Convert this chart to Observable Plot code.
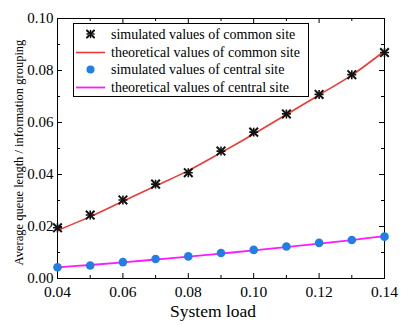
<!DOCTYPE html>
<html>
<head>
<meta charset="utf-8">
<script src="https://cdn.jsdelivr.net/npm/d3@7"></script>
<script src="https://cdn.jsdelivr.net/npm/@observablehq/plot@0.6"></script>
<style>
  html, body { margin: 0; padding: 0; background: #fff; }
  #wrap { position: relative; width: 404px; height: 326px; font-family: "Liberation Serif", "Times New Roman", serif; }
  #legend { position: absolute; left: 73px; top: 23px; width: 236px; height: 74px; border: 1px solid #000; background: #fff; box-sizing: border-box; font-size: 14px; }
  .row { position: absolute; left: 0; height: 17px; line-height: 17px; white-space: nowrap; }
  .row svg { position: absolute; left: 1px; top: 0; }
  .row span { position: absolute; left: 37px; top: 0; }
</style>
</head>
<body>
<div id="wrap"></div>
<script>
const load = [0.04, 0.05, 0.06, 0.07, 0.08, 0.09, 0.10, 0.11, 0.12, 0.13, 0.14];
const simCommon = [0.0195, 0.0244, 0.0302, 0.0363, 0.0407, 0.0490, 0.0563, 0.0633, 0.0708, 0.0784, 0.0869];
const theoCommon = [0.0185, 0.0238, 0.0297, 0.0356, 0.0415, 0.0484, 0.0556, 0.0631, 0.0706, 0.0782, 0.0875];
const simCentral = [0.0043, 0.0050, 0.0063, 0.0075, 0.0085, 0.0098, 0.0110, 0.0123, 0.0137, 0.0148, 0.0161];
const theoCentral = [0.0043, 0.0052, 0.0062, 0.0073, 0.0084, 0.0096, 0.0108, 0.0121, 0.0134, 0.0148, 0.0163];
const xTicks = [0.04, 0.06, 0.08, 0.10, 0.12, 0.14];
const xMinor = [0.05, 0.07, 0.09, 0.11, 0.13];
const yTicks = [0.00, 0.02, 0.04, 0.06, 0.08, 0.10];
const yMinor = [0.01, 0.03, 0.05, 0.07, 0.09];
const legendLabels = [
  "simulated values of common site",
  "theoretical values of common site",
  "simulated values of central site",
  "theoretical values of central site"
];
const colors = { star: "#111", common: "#ef3b36", dot: "#1f7fe6", central: "#ff19ff" };

const W = 404, H = 326, mL = 57, mR = 20, mT = 18, mB = 48;
const pw = W - mL - mR, ph = H - mT - mB;
const rows = (ys) => load.map((x, i) => ({x, y: ys[i]}));
const font = "Liberation Serif, Times New Roman, serif";

const chart = Plot.plot({
  width: W, height: H,
  marginLeft: mL, marginRight: mR, marginTop: mT, marginBottom: mB,
  style: { fontFamily: font, fontSize: "15px", color: "#000", background: "#fff" },
  x: { domain: [0.04, 0.14] },
  y: { domain: [0, 0.10] },
  marks: [
    Plot.frame({ stroke: "#000", strokeWidth: 1 }),
    Plot.tickX(xTicks, { x: d => d, insetTop: ph - 5, stroke: "#000" }),
    Plot.tickX(xTicks, { x: d => d, insetBottom: ph - 5, stroke: "#000" }),
    Plot.tickX(xMinor, { x: d => d, insetTop: ph - 3, stroke: "#000" }),
    Plot.tickX(xMinor, { x: d => d, insetBottom: ph - 3, stroke: "#000" }),
    Plot.tickY(yTicks, { y: d => d, insetRight: pw - 5, stroke: "#000" }),
    Plot.tickY(yTicks, { y: d => d, insetLeft: pw - 5, stroke: "#000" }),
    Plot.tickY(yMinor, { y: d => d, insetRight: pw - 3, stroke: "#000" }),
    Plot.tickY(yMinor, { y: d => d, insetLeft: pw - 3, stroke: "#000" }),
    Plot.axisX(xTicks, { tickSize: 0, tickPadding: 7, tickFormat: d3.format(".2f"), fontSize: 15.5, label: null }),
    Plot.axisY(yTicks, { tickSize: 0, tickPadding: 4, tickFormat: d3.format(".2f"), fontSize: 15, label: null }),
    Plot.text(["System load"], { frameAnchor: "bottom", dy: 38, dx: -8, fontSize: 17.5, text: d => d }),
    Plot.text(["Average queue length / information grouping"], { frameAnchor: "left", textAnchor: "middle", dx: -39, dy: 4, rotate: -90, fontSize: 12.5, text: d => d }),
    Plot.line(rows(theoCommon), { x: "x", y: "y", stroke: colors.common, strokeWidth: 1.6, curve: "catmull-rom" }),
    Plot.line(rows(theoCentral), { x: "x", y: "y", stroke: colors.central, strokeWidth: 1.8, curve: "catmull-rom" }),
    Plot.dot(rows(simCommon), { x: "x", y: "y", symbol: "times", r: 4, stroke: colors.star, strokeWidth: 2 }),
    Plot.dot(rows(simCommon), { x: "x", y: "y", symbol: "plus", r: 3, stroke: colors.star, strokeWidth: 1.6 }),
    Plot.dot(rows(simCentral), { x: "x", y: "y", r: 4.3, fill: colors.dot, stroke: "none" })
  ]
});

const wrap = document.getElementById("wrap");
wrap.appendChild(chart);

const legend = document.createElement("div");
legend.id = "legend";
const swatches = [
  `<svg width="32" height="17"><g stroke="${colors.star}" stroke-linecap="round"><path d="M12 4.5 L19 11.5 M19 4.5 L12 11.5" stroke-width="2"/><path d="M15.5 4.5 V11.5 M12 8 H19" stroke-width="1.5"/></g></svg>`,
  `<svg width="32" height="17"><line x1="1" x2="30" y1="8.5" y2="8.5" stroke="${colors.common}" stroke-width="1.6"/></svg>`,
  `<svg width="32" height="17"><circle cx="15.5" cy="8.5" r="4" fill="${colors.dot}"/></svg>`,
  `<svg width="32" height="17"><line x1="1" x2="30" y1="8.5" y2="8.5" stroke="${colors.central}" stroke-width="1.8"/></svg>`
];
legendLabels.forEach((lab, i) => {
  const r = document.createElement("div");
  r.className = "row";
  r.style.top = (2 + i * 17.5) + "px";
  r.innerHTML = swatches[i] + `<span>${lab}</span>`;
  legend.appendChild(r);
});
wrap.appendChild(legend);
</script>
</body>
</html>
